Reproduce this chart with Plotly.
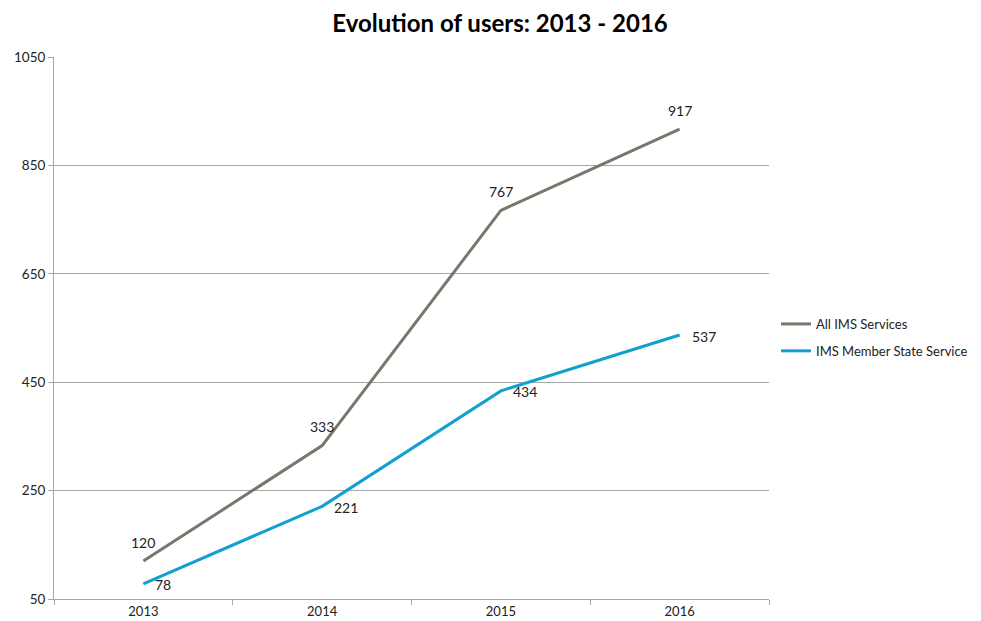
import plotly.graph_objects as go

years = ["2013", "2014", "2015", "2016"]
all_ims = [120, 333, 767, 917]
member_state = [78, 221, 434, 537]
y_ticks = [50, 250, 450, 650, 850, 1050]

gray = "#77776B"
blue = "#11A0D0"
font = "Lato"

fig = go.Figure()
fig.add_trace(go.Scatter(
    x=years, y=all_ims, name="All IMS Services", mode="lines",
    line=dict(color=gray, width=3), legendgroup="a",
))
fig.add_trace(go.Scatter(
    x=years, y=member_state, name="IMS Member State Service", mode="lines",
    line=dict(color=blue, width=3), legendgroup="b",
))

for i, yv in enumerate(all_ims):
    fig.add_annotation(x=i, y=yv, xref="x", yref="y", text=str(yv), showarrow=False,
                       xanchor="center", yanchor="middle", yshift=19,
                       font=dict(family=font, size=14, color="#222"))
for i, yv in enumerate(member_state):
    fig.add_annotation(x=i, y=yv, xref="x", yref="y", text=str(yv), showarrow=False,
                       xanchor="left", yanchor="middle", xshift=10, yshift=-1,
                       font=dict(family=font, size=14, color="#222"))

# page body has an 8px default margin; figure sized to fit the 981x621 window
fig.update_layout(
    width=973, height=613,
    margin=dict(l=46, r=212, t=49, b=22),
    paper_bgcolor="white", plot_bgcolor="white",
    font=dict(family=font, size=13, color="#222"),
    title=dict(text="<b>Evolution of users: 2013 - 2016</b>", x=0.5057, xanchor="center",
               y=0.975, yanchor="middle", font=dict(family=font, size=24, color="black"),
               automargin=False),
    showlegend=True,
    legend=dict(xref="container", yref="container", x=0.7893, y=0.4625,
                xanchor="left", yanchor="middle", traceorder="grouped",
                font=dict(family=font, size=13, color="#222"), tracegroupgap=7),
    xaxis=dict(type="category", range=[-0.5, 3.5], showgrid=False, automargin=False,
               showline=True, linecolor="#A6A6A6", linewidth=1,
               ticks="outside", tickson="boundaries", ticklen=5, tickcolor="#A6A6A6",
               tickfont=dict(family=font, size=13)),
    yaxis=dict(range=[50, 1050], tickvals=y_ticks, showgrid=True, gridcolor="#A6A6A6",
               gridwidth=1, showline=True, linecolor="#A6A6A6", linewidth=1, automargin=False,
               ticks="outside", ticklen=5, tickcolor="#A6A6A6", zeroline=False,
               tickfont=dict(family=font, size=13.5)),
)

fig.write_html("out.html")
